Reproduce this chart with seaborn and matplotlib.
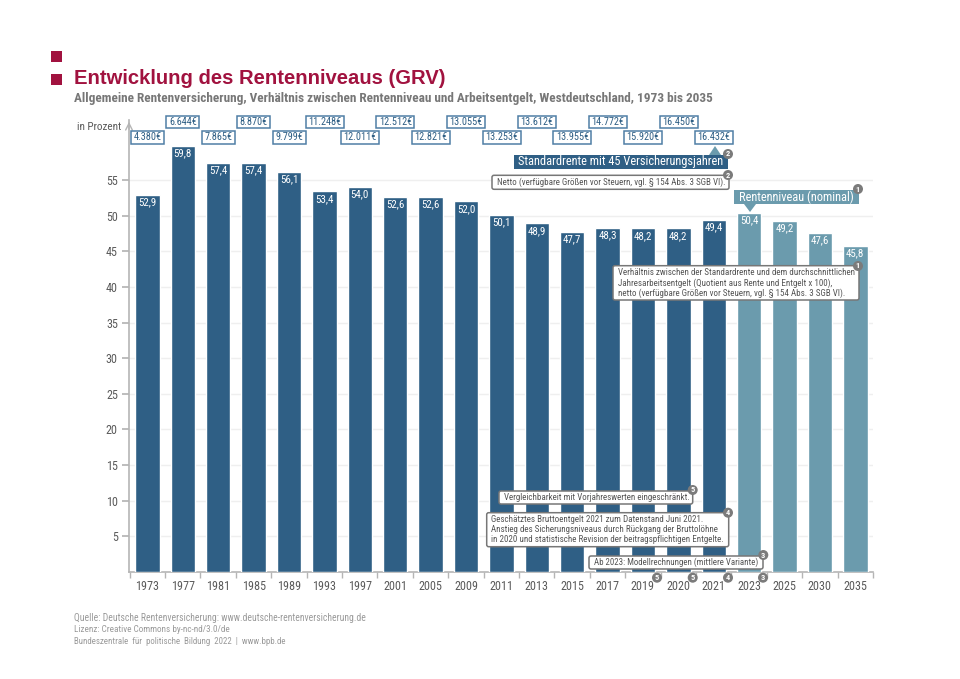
import matplotlib
matplotlib.use("Agg")
import matplotlib.pyplot as plt
from matplotlib import font_manager as fm
from matplotlib.patches import Rectangle, FancyBboxPatch, Polygon, Circle
import seaborn as sns
import pandas as pd

years = ["1973","1977","1981","1985","1989","1993","1997","2001","2005","2009","2011",
         "2013","2015","2017","2019","2020","2021","2023","2025","2030","2035"]
niveau = [52.9,59.8,57.4,57.4,56.1,53.4,54.0,52.6,52.6,52.0,50.1,
          48.9,47.7,48.3,48.2,48.2,49.4,50.4,49.2,47.6,45.8]
rente = ["4.380","6.644","7.865","8.870","9.799","11.248","12.011","12.512","12.821","13.055",
         "13.253","13.612","13.955","14.772","15.920","16.450","16.432"]
kind = ["Ist"]*17 + ["Modell"]*4
yticks = list(range(5, 60, 5))
NAVY, TEAL, RED, GREY = "#2f5f85", "#6b9bad", "#a1123f", "#5a5a5a"
BOXEDGE = "#4f7fa6"

names = {f.name for f in fm.fontManager.ttflist}
COND = next(n for n in ["Roboto Condensed", "Archivo Narrow", "IBM Plex Sans Condensed",
                        "Sofia Sans Condensed", "Roboto"] if n in names)
SANS = "Liberation Sans"
sns.set_theme(style="white")
plt.rcParams["font.family"] = [COND, "DejaVu Sans"]

W, H = 960, 679
fig = plt.figure(figsize=(W/100, H/100), dpi=100, facecolor="white")
rend = fig.canvas.get_renderer()

def measure(s, **kw):
    t = fig.text(0, 0, s, fontsize=10, **kw)
    w = t.get_window_extent(rend).width
    t.remove()
    return w

def fit(s, width, **kw):
    """font size that makes string s about width pixels wide"""
    return 10*width/measure(s, **kw)

L, R, T, B = 129, 873, 120, 572
ax = fig.add_axes([L/W, 1-B/H, (R-L)/W, (B-T)/H])
df = pd.DataFrame({"Jahr": years, "Rentenniveau": niveau, "Art": kind})
sns.barplot(data=df, x="Jahr", y="Rentenniveau", hue="Art", dodge=False, width=0.69,
            palette={"Ist": NAVY, "Modell": TEAL}, legend=False, saturation=1, ax=ax, zorder=3)
ax.set_xlim(-0.52, 20.5)
ax.set_ylim(0, (B-T)/7.127)
ax.set_xlabel(""); ax.set_ylabel("")
ax.set_yticks(yticks)
ax.set_yticklabels([str(v) for v in yticks], fontsize=fit("55", 12), color=GREY)
ax.set_axisbelow(True)
ax.grid(axis="y", color="#efefef", lw=1, zorder=0)
for s in ("top", "right"):
    ax.spines[s].set_visible(False)
for s in ("left", "bottom"):
    ax.spines[s].set_color("#b5b5b5"); ax.spines[s].set_linewidth(1.2)
ax.tick_params(axis="y", length=5, color="#b5b5b5", pad=3, left=True)
ax.set_xticks([i-0.5 for i in range(21)] + [20.5], minor=True)
ax.tick_params(axis="x", which="minor", length=4, color="#b5b5b5", bottom=True)
ax.tick_params(axis="x", which="major", length=0, pad=6, labelsize=fit("1973", 24), labelcolor=GREY)

vsize = fit("52,9", 18.5)
for i, v in enumerate(niveau):
    ax.text(i, v-1.03, f"{v:.1f}".replace(".", ","), ha="center", va="center",
            color="white", fontsize=vsize, zorder=5)

ov = fig.add_axes([0, 0, 1, 1], facecolor="none")
ov.set_xlim(0, W); ov.set_ylim(H, 0); ov.axis("off")

def badge(x, y, n):
    ov.add_patch(Circle((x, y), 5.0, fc="#7b7b7b", ec="none", zorder=12))
    ov.text(x, y, str(n), color="white", fontsize=6, ha="center", va="center", weight="bold", zorder=13)

def note(x0, y0, x1, y1, lines, ys, tx, longest_w):
    ov.add_patch(FancyBboxPatch((x0+2, y0+2), x1-x0-4, y1-y0-4, boxstyle="round,pad=2,rounding_size=2",
                                fc="white", ec="#777777", lw=1.1, zorder=10))
    size = fit(max(lines, key=measure), longest_w)
    for s, y in zip(lines, ys):
        ov.text(tx, y, s, fontsize=size, color="#555555", va="center", ha="left", zorder=11)

ov.annotate("", xy=(L, 119), xytext=(L, 132), arrowprops=dict(arrowstyle="->", color="#b5b5b5", lw=1))
ov.text(121, 127, "in Prozent", ha="right", va="center", fontsize=fit("in Prozent", 44), color=GREY)

ov.add_patch(Rectangle((51, 51), 11, 11, fc=RED, ec="none"))
ov.add_patch(Rectangle((51, 74), 11, 11, fc=RED, ec="none"))
title = "Entwicklung des Rentenniveaus (GRV)"
ov.text(74, 79, title, fontsize=fit(title, 373, family=SANS, weight="bold"), weight="bold", color=RED,
        family=SANS, va="center", ha="left")
sub = "Allgemeine Rentenversicherung, Verhältnis zwischen Rentenniveau und Arbeitsentgelt, Westdeutschland, 1973 bis 2035"
ov.text(74, 98.5, sub, fontsize=fit(sub, 640, weight="bold"), weight="bold", color="#777777", va="center", ha="left")

x_bar = lambda i: 147.5 + i*35.4
rsize = fit("6.644€", 27.7)
for i, r in enumerate(rente):
    y = 122 if i % 2 else 137.5
    hw = 19 if len(r) == 6 else 16.5
    cx = x_bar(i)
    ov.add_patch(Rectangle((cx-hw, y-6.3), 2*hw, 12.6, fc="white", ec=BOXEDGE, lw=1.1, zorder=6))
    ov.text(cx, y, r + "€", color=NAVY, fontsize=rsize, ha="center", va="center", zorder=7)

s1 = "Standardrente mit 45 Versicherungsjahren"
ov.add_patch(Rectangle((514, 155), 214, 14.3, fc=NAVY, ec="none", zorder=8))
ov.add_patch(Polygon([(709, 155), (721, 155), (715, 146)], fc=TEAL, ec="none", zorder=8))
ov.text(621, 162, s1, color="white", fontsize=fit(s1, 205), ha="center", va="center", zorder=9)
badge(728, 154, 2)
s2 = "Rentenniveau (nominal)"
ov.add_patch(Rectangle((734, 189.5), 125, 14.5, fc=TEAL, ec="none", zorder=8))
ov.add_patch(Polygon([(744, 204), (756, 204), (750, 212)], fc=TEAL, ec="none", zorder=8))
ov.text(796.5, 197, s2, color="white", fontsize=fit(s2, 115), ha="center", va="center", zorder=9)
badge(858, 189, 1)

note(492, 175.3, 729, 189.3, ["Netto (verfügbare Größen vor Steuern, vgl. § 154 Abs. 3 SGB VI)."], [182.5], 497, 226)
badge(728, 175, 2)
note(613, 265.7, 859, 300, ["Verhältnis zwischen der Standardrente und dem durchschnittlichen",
                            "Jahresarbeitsentgelt (Quotient aus Rente und Entgelt x 100),",
                            "netto (verfügbare Größen vor Steuern, vgl. § 154 Abs. 3 SGB VI)."],
     [272.7, 283, 293.7], 617.5, 235)
badge(858, 266, 1)
note(499, 491, 692.7, 504, ["Vergleichbarkeit mit Vorjahreswerten eingeschränkt."], [497.7], 503.5, 184)
badge(692.7, 490, 5)
note(486.7, 512.7, 728.7, 546.7, ["Geschätztes Bruttoentgelt 2021 zum Datenstand Juni 2021.",
                                  "Anstieg des Sicherungsniveaus durch Rückgang der Bruttolöhne",
                                  "in 2020 und statistische Revision der beitragspflichtigen Entgelte."],
     [519.5, 530, 540], 491, 232)
badge(728, 512.7, 4)
note(589, 556, 763, 569, ["Ab 2023: Modellrechnungen (mittlere Variante)"], [562.7], 594, 164)
badge(763.3, 555, 3)
for x, n in [(657, 5), (692.7, 5), (728, 4), (763, 3)]:
    badge(x, 577.7, n)

for y, s, wd in [(618, "Quelle: Deutsche Rentenversicherung: www.deutsche-rentenversicherung.de", 288),
                 (629.5, "Lizenz: Creative Commons by-nc-nd/3.0/de", 154),
                 (641, "Bundeszentrale  für  politische  Bildung  2022  |  www.bpb.de", 212)]:
    ov.text(74, y, s, fontsize=fit(s, wd), color="#9a9a9a", va="center", ha="left")

fig.savefig("out.png", dpi=100, facecolor="white")
